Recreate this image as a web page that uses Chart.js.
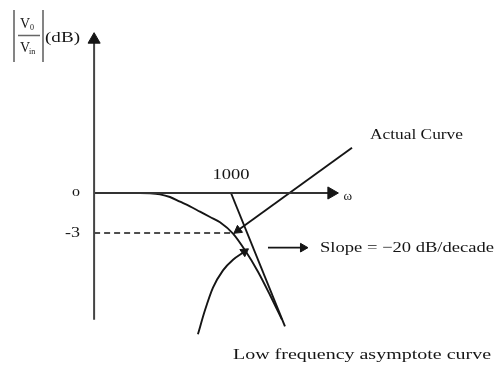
<!DOCTYPE html>
<html>
<head>
<meta charset="utf-8">
<script src="https://cdn.jsdelivr.net/npm/chart.js@4.4.1/dist/chart.umd.min.js"></script>
<style>
  html,body{margin:0;padding:0;background:#fff;}
  #wrap{width:495px;height:366px;position:relative;}
</style>
</head>
<body>
<div id="wrap"><canvas id="bode"></canvas></div>
<script>
/* ====== DATA: omega in rad/s (log axis), gain in dB ====== */
const cornerFreq = 1000;
const actualW  = [55, 144, 178, 220, 272, 337, 417, 516, 640, 791, 1044, 1349, 1778, 2297, 2965];
const actualDb = [0, 0, -0.02, -0.1, -0.3, -0.65, -1.0, -1.4, -1.8, -2.2, -3.05, -4.3, -5.9, -7.65, -9.5];
const asymW  = [1000, 3160];
const asymDb = [0, -10];
const halfPowerW  = [54, 1090];
const halfPowerDb = [-3, -3];
const yTickVals   = [0, -3];
const yTickLabels = ["0", "-3"];

// axes (origin at the left end of the sketch)
const yAxisW  = [54, 54];
const yAxisDb = [-9.5, 11.5];
const xAxisW  = [54, 8500];
const xAxisDb = [0, 0];

// annotation pointers
const actualPtrW  = [13200, 1160];
const actualPtrDb = [3.4, -2.8];
const lowPtrW  = [494, 574, 681, 843, 1044, 1330];
const lowPtrDb = [-10.6, -8.8, -7.1, -5.8, -5.0, -4.4];
const slopePtrW  = [2200, 4640];
const slopePtrDb = [-4.1, -4.1];

/* ====== HELPERS ====== */
const pts = (ws, dbs) => ws.map((w, i) => ({x: w, y: dbs[i]}));
const INK = "#151515";

function line(ws, dbs, extra){
  return Object.assign({
    data: pts(ws, dbs), borderColor: INK, borderWidth: 1.9,
    pointRadius: 0, tension: 0, fill: false
  }, extra || {});
}
function arrow(ws, dbs, rot, r, extra){
  const last = ws.length - 1;
  return line(ws, dbs, Object.assign({
    pointStyle: "triangle",
    pointRotation: rot,
    pointRadius: c => c.dataIndex === last ? r : 0,
    pointBackgroundColor: INK, pointBorderColor: INK, pointBorderWidth: 1
  }, extra || {}));
}

const SERIF = "'Liberation Serif', 'DejaVu Serif', serif";
function fitText(ctx, str, x, y, w, size, align){
  ctx.font = size + "px " + SERIF;
  const m = ctx.measureText(str).width;
  const sx = w ? w / m : 1;
  ctx.save();
  ctx.translate(x, y); ctx.scale(sx, 1);
  ctx.textAlign = align || "left"; ctx.textBaseline = "middle";
  ctx.fillStyle = INK;
  ctx.fillText(str, 0, 0);
  ctx.restore();
}

/* ====== TEXT PLUGIN ====== */
const labels = {
  id: "labels",
  afterDatasetsDraw(chart){
    const ctx = chart.ctx, xs = chart.scales.x, ys = chart.scales.y;
    // y tick labels
    fitText(ctx, yTickLabels[0], 80, ys.getPixelForValue(yTickVals[0]), 8, 11, "right");
    fitText(ctx, yTickLabels[1], 80, ys.getPixelForValue(yTickVals[1]), 15, 14, "right");
    // corner frequency
    fitText(ctx, String(cornerFreq), xs.getPixelForValue(cornerFreq), 175, 37, 15, "center");
    // omega
    fitText(ctx, "ω", xs.getPixelForValue(xAxisW[1]) + 12, 197, 0, 13, "left");
    fitText(ctx, "Actual Curve", 370, 135, 93, 15, "left");
    fitText(ctx, "Slope = −20 dB/decade", 320, 248, 174, 15, "left");
    fitText(ctx, "Low frequency asymptote curve", 233, 355, 258, 15, "left");

    // |Vo / Vin| (dB)
    ctx.save();
    ctx.strokeStyle = "#666"; ctx.lineWidth = 1.6;
    ctx.beginPath();
    ctx.moveTo(14, 10); ctx.lineTo(14, 62);
    ctx.moveTo(43, 10); ctx.lineTo(43, 62);
    ctx.moveTo(18, 35.5); ctx.lineTo(40, 35.5);
    ctx.stroke();
    ctx.restore();
    fitText(ctx, "V", 20, 24, 0, 14, "left");
    fitText(ctx, "0", 30, 28, 0, 8, "left");
    fitText(ctx, "V", 20, 48, 0, 14, "left");
    fitText(ctx, "in", 29, 52, 0, 8, "left");
    fitText(ctx, "(dB)", 45, 38, 35, 14, "left");
  }
};

/* ====== CHART ====== */
new Chart(document.getElementById("bode"), {
  type: "line",
  data: {
    datasets: [
      arrow(yAxisW, yAxisDb, 0, 7, {borderColor: "#444", borderWidth: 2}),
      arrow(xAxisW, xAxisDb, 90, 7, {borderColor: "#333", borderWidth: 2.2}),
      line(halfPowerW, halfPowerDb, {borderDash: [6, 4], borderWidth: 1.6}),
      line(asymW, asymDb),
      line(actualW, actualDb, {cubicInterpolationMode: "monotone"}),
      arrow(actualPtrW, actualPtrDb, 234, 5),
      arrow(lowPtrW, lowPtrDb, 55, 5, {cubicInterpolationMode: "monotone"}),
      arrow(slopePtrW, slopePtrDb, 90, 5)
    ]
  },
  options: {
    responsive: true,
    maintainAspectRatio: false,
    animation: false,
    layout: {padding: 0, autoPadding: false},
    clip: false,
    plugins: {legend: {display: false}, tooltip: {enabled: false}},
    scales: {
      x: {type: "logarithmic", display: false, bounds: "data",
          min: Math.pow(10, 3 - 231 / 108), max: Math.pow(10, 3 + 264 / 108)},
      y: {type: "linear", display: false, bounds: "data",
          min: -173 * 0.075, max: 193 * 0.075}
    }
  },
  plugins: [labels]
});
</script>
</body>
</html>
